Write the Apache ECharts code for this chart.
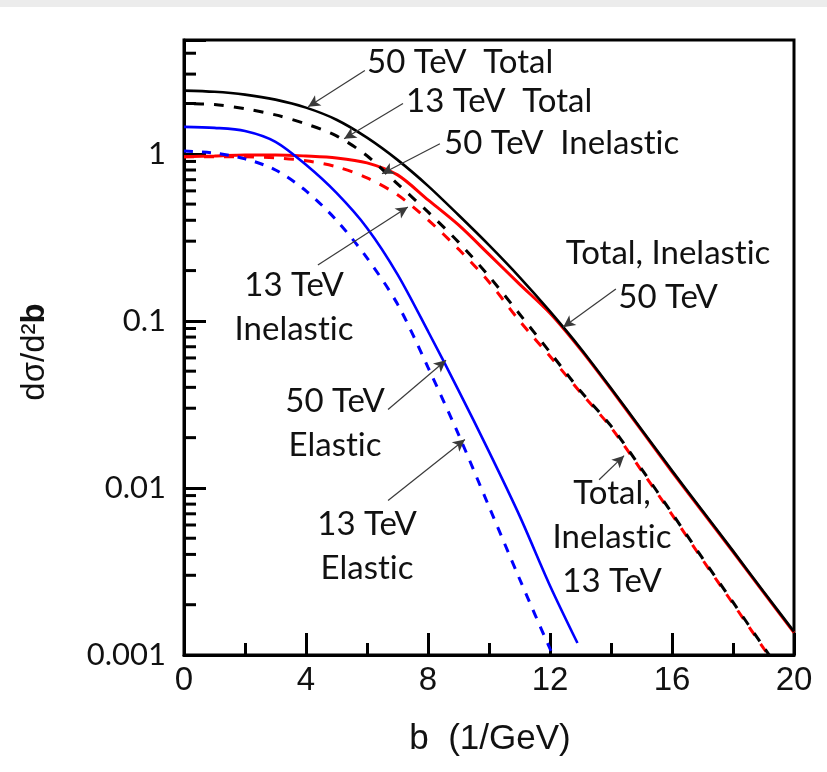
<!DOCTYPE html>
<html><head><meta charset="utf-8">
<script src="https://cdn.jsdelivr.net/npm/echarts@6/dist/echarts.min.js"></script>
<style>html,body{margin:0;padding:0;background:#fff}#c{width:827px;height:772px}</style>
</head><body><div id="c"></div>
<script>
// ---------- data ----------
const bValues = [0,1,2,3,4,5,6,7,8,9,10,11,12,13,14,15,16,17,18,19,20];
const total50 = [2.39,2.35,2.26,2.11,1.89,1.60,1.25,0.92,0.643,0.43,0.284,0.183,0.114,0.0686,0.0395,0.0224,0.0127,0.0073,0.0042,0.0024,0.00138];
const inel50  = [0.96,0.97,0.985,0.985,0.97,0.945,0.883,0.748,0.53,0.375,0.25,0.166,0.111,0.0675,0.039,0.0221,0.0125,0.0072,0.00415,0.00237,0.00136];
const total13 = [2.0,1.97,1.86,1.71,1.51,1.28,0.973,0.661,0.449,0.296,0.185,0.11,0.0649,0.038,0.0235,0.013,0.00706,0.0038,0.00207,0.00112,0.00061];
const inel13  = [0.96,0.96,0.96,0.946,0.908,0.836,0.718,0.568,0.402,0.269,0.171,0.1,0.0614,0.0373,0.023,0.0127,0.00692,0.00372,0.00203,0.0011,0.0006];
const bEl50 = [0,1,2,3,4,5,6,7,8,9,10,11,12,12.9];
const el50  = [1.45,1.43,1.37,1.18,0.859,0.583,0.36,0.19,0.0867,0.0384,0.0165,0.00683,0.0026,0.00118];
const bEl13 = [0,1,2,3,4,5,6,7,8,9,10,11,12,13];
const el13  = [1.04,1.01,0.933,0.80,0.60,0.40,0.238,0.126,0.0527,0.0209,0.00773,0.00286,0.00109,0.00043];

const xTickLabels = ['0','4','8','12','16','20'];
const yTickValues = [0.001,0.01,0.1,1];
const yTickLabels = ['0.001','0.01','0.1','1'];
const yMinorTicks = [0.002,0.003,0.004,0.005,0.006,0.007,0.008,0.009,
  0.02,0.03,0.04,0.05,0.06,0.07,0.08,0.09,
  0.2,0.3,0.4,0.5,0.6,0.7,0.8,0.9,2,3,4];

// annotation arrows: [bFrom, vFrom, bTo, vTo]
const arrows = [
  [5.93,3.15,4.07,1.91],
  [7.18,2.0,5.25,1.23],
  [8.39,1.148,6.49,0.759],
  [4.39,0.216,7.34,0.481],
  [6.69,0.0295,8.59,0.0581],
  [6.69,0.0084,9.21,0.0195],
  [14.16,0.155,12.43,0.0917],
  [13.61,0.0112,14.43,0.0156]
];
const annoTexts = [
  ['50 TeV  Total'],
  ['13 TeV  Total'],
  ['50 TeV  Inelastic'],
  ['13 TeV','Inelastic'],
  ['50 TeV','Elastic'],
  ['13 TeV','Elastic'],
  ['Total, Inelastic','50 TeV'],
  ['Total,','Inelastic','13 TeV']
];

// ---------- chart ----------
const pairs = (xs, ys) => xs.map((x,i)=>[x, ys[i]]);
const noLig = (s) => s.replace(/ti/g, 't\u200Ci');
const chart = echarts.init(document.getElementById('c'));
const LF = "Lato, 'Open Sans', sans-serif";
const NF = "'Liberation Sans Narrow', 'Liberation Sans', Arial, sans-serif";

// text annotation placements (pixels)
const annoPos = [
  {x:367, y:62, align:'left'},
  {x:406, y:101, align:'left'},
  {x:444, y:143, align:'left'},
  {x:294, y:285, align:'center'},
  {x:335, y:401, align:'center'},
  {x:367, y:524, align:'center'},
  {x:668, y:253, align:'center'},
  {x:612, y:493, align:'center'}
];
const graphics = [
  {type:'rect', shape:{x:0,y:0,width:827,height:7}, style:{fill:'#ececec'}, z:-1}
];
annoTexts.forEach((lines, i) => {
  const p = annoPos[i];
  lines.forEach((t, j) => {
    graphics.push({type:'text', x:p.x, y:p.y + j*44, z:50,
      style:{text:noLig(t), font:"33px " + LF, fill:'#111', textAlign:p.align, textVerticalAlign:'middle'}});
  });
});
graphics.push({type:'text', x:35, y:352, rotation:Math.PI/2, z:50,
  style:{text:'{a|dσ/d²}{b|b}', textAlign:'center', textVerticalAlign:'middle',
    rich:{a:{fontFamily:'Liberation Sans, Arial', fontSize:33, fill:'#111'},
          b:{fontFamily:'Liberation Sans, Arial', fontSize:33, fontWeight:'bold', fill:'#111'}}}});
graphics.push({type:'text', x:490, y:739, z:50,
  style:{text:'b  (1/GeV)', font:"35px " + NF, fill:'#111', textAlign:'center', textVerticalAlign:'middle'}});

chart.setOption({
  animation:false,
  backgroundColor:'#fff',
  grid:{left:184, right:33, top:40, bottom:117, show:true, borderColor:'#000', borderWidth:3},
  xAxis:{type:'value', min:0, max:20, interval:4,
    axisLine:{lineStyle:{color:'#000', width:3}},
    axisTick:{inside:true, length:22, lineStyle:{color:'#000', width:3}},
    minorTick:{show:true, splitNumber:2, length:12, lineStyle:{color:'#000', width:3}},
    splitLine:{show:false},
    axisLabel:{fontFamily:NF, fontSize:33, color:'#111', margin:9,
      formatter:(v)=>{ const i = xTickLabels.indexOf(String(v)); return i>=0 ? xTickLabels[i] : ''; }}
  },
  yAxis:{type:'log', logBase:10, min:0.001, max:4.8,
    axisLine:{lineStyle:{color:'#000', width:3}},
    axisTick:{inside:true, length:22, lineStyle:{color:'#000', width:3}},
    splitLine:{show:false},
    axisLabel:{fontFamily:LF, fontSize:31, color:'#111', margin:18,
      formatter:(v)=>{ for (let i=0;i<yTickValues.length;i++){ if (Math.abs(Math.log10(v)-Math.log10(yTickValues[i]))<1e-6) return yTickLabels[i]; } return ''; }}
  },
  graphic: graphics,
  series:[
    {type:'custom', data: yMinorTicks.map(v=>[0,v]), encode:{x:0,y:1}, silent:true, z:5,
      renderItem:(params, api)=>{ const p = api.coord([0, api.value(1)]);
        return {type:'line', shape:{x1:p[0], y1:p[1], x2:p[0]+12, y2:p[1]}, style:{stroke:'#000', lineWidth:3}}; }},
    {name:'50 TeV Inelastic', type:'line', data:pairs(bValues, inel50), showSymbol:false, smooth:0.3,
      lineStyle:{color:'#ff0000', width:3}, z:3},
    {name:'50 TeV Total', type:'line', data:pairs(bValues, total50), showSymbol:false, smooth:0.3,
      lineStyle:{color:'#000', width:2.6}, z:4},
    {name:'13 TeV Inelastic', type:'line', data:pairs(bValues, inel13), showSymbol:false, smooth:0.3,
      lineStyle:{color:'#ff0000', width:3, type:[10,10]}, z:3},
    {name:'13 TeV Total', type:'line', data:pairs(bValues, total13), showSymbol:false, smooth:0.3,
      lineStyle:{color:'#000', width:3, type:[10,10], dashOffset:10}, z:4},
    {name:'50 TeV Elastic', type:'line', data:pairs(bEl50, el50), showSymbol:false, smooth:0.3,
      lineStyle:{color:'#0000ff', width:2.6}, z:3},
    {name:'13 TeV Elastic', type:'line', data:pairs(bEl13, el13), showSymbol:false, smooth:0.3,
      lineStyle:{color:'#0000ff', width:3, type:[9,9]}, z:3},
    {name:'arrows', type:'line', data:[], z:6,
      markLine:{silent:true, symbol:['none','arrow'], symbolSize:[9,12], animation:false,
        label:{show:false}, lineStyle:{color:'#3a3a3a', width:1.2, type:'solid'},
        emphasis:{disabled:true},
        data: arrows.map(a=>[{coord:[a[0],a[1]]},{coord:[a[2],a[3]]}])}}
  ]
});
</script></body></html>
